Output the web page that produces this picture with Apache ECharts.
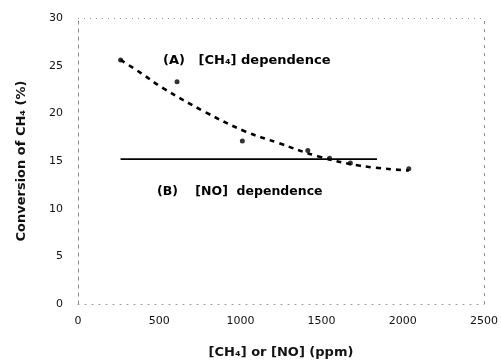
<!DOCTYPE html>
<html>
<head>
<meta charset="utf-8">
<script src="https://cdn.jsdelivr.net/npm/echarts@6/dist/echarts.min.js"></script>
<style>
  html, body { margin: 0; padding: 0; background: #fff; }
  #chart { width: 501px; height: 364px; }
</style>
</head>
<body>
<div id="chart"></div>
<script>
// Axis ticks
var xTicks = [0, 500, 1000, 1500, 2000, 2500];
var yTicks = [0, 5, 10, 15, 20, 25, 30];

// (A) CH4 dependence: measured conversion (%) vs [CH4] (ppm)
var ch4Conc = [262, 610, 1012, 1415, 1549, 1677, 2037];
var ch4Conv = [25.6, 23.3, 17.1, 16.1, 15.3, 14.8, 14.2];

// (A) trend curve drawn through the measurements
var ch4TrendConc = [262, 390, 518, 787, 1030, 1232, 1476, 1738, 2037];
var ch4TrendConv = [25.6, 24.2, 22.7, 20.1, 18.1, 16.9, 15.5, 14.5, 14.0];

// (B) NO dependence: flat conversion across [NO]
var noConc = [262, 1841];
var noConv = [15.2, 15.2];

function pairs(xs, ys) {
  return xs.map(function (x, i) { return [x, ys[i]]; });
}

var font = '"DejaVu Sans", "Liberation Sans", sans-serif';
var chart = echarts.init(document.getElementById('chart'));

chart.setOption({
  animation: false,
  backgroundColor: '#ffffff',
  grid: { left: 78, right: 14, top: 18, bottom: 59, show: false },
  xAxis: {
    type: 'value',
    min: xTicks[0],
    max: xTicks[xTicks.length - 1],
    interval: 500,
    name: '[CH\u2084] or [NO] (ppm)',
    nameLocation: 'middle',
    nameGap: 42,
    nameTextStyle: { fontFamily: font, fontSize: 13, fontWeight: 'bold', color: '#111' },
    axisLine: { show: true, lineStyle: { color: '#999', type: [1, 6], width: 1 } },
    axisTick: { show: false },
    splitLine: { show: false },
    axisLabel: {
      fontFamily: font, fontSize: 11, color: '#111', margin: 12,
      formatter: function (v) { return String(v); }
    }
  },
  yAxis: {
    type: 'value',
    min: yTicks[0],
    max: yTicks[yTicks.length - 1],
    interval: 5,
    name: 'Conversion of CH\u2084 (%)',
    nameLocation: 'middle',
    nameGap: 50,
    nameTextStyle: { fontFamily: font, fontSize: 13, fontWeight: 'bold', color: '#111' },
    axisLine: { show: true, lineStyle: { color: '#888', type: [3, 5], width: 1 } },
    axisTick: { show: false },
    splitLine: { show: false },
    axisLabel: { fontFamily: font, fontSize: 11, color: '#111', margin: 15 }
  },
  series: [
    {
      name: 'frame',
      type: 'line',
      data: [],
      markLine: {
        silent: true,
        symbol: 'none',
        label: { show: false },
        lineStyle: { color: '#999', type: [1, 5], width: 1 },
        data: [
          { yAxis: 30 },
          [{ coord: [2500, 0] }, { coord: [2500, 30], lineStyle: { color: '#888', type: [3, 5] } }]
        ]
      }
    },
    {
      name: 'CH4 trend',
      type: 'line',
      smooth: 0.4,
      symbol: 'none',
      data: pairs(ch4TrendConc, ch4TrendConv),
      lineStyle: { color: '#000', width: 2.6, type: [5, 5] },
      z: 3
    },
    {
      name: 'CH4 dependence',
      type: 'scatter',
      symbol: 'circle',
      symbolSize: 5,
      data: pairs(ch4Conc, ch4Conv),
      itemStyle: { color: '#000' },
      z: 4
    },
    {
      name: 'NO dependence',
      type: 'line',
      symbol: 'none',
      data: pairs(noConc, noConv),
      lineStyle: { color: '#000', width: 1.6 },
      z: 2
    }
  ],
  graphic: [
    {
      type: 'text',
      left: 163,
      top: 54,
      style: {
        text: '(A)   [CH\u2084] dependence',
        font: 'bold 13px ' + font,
        fill: '#000'
      }
    },
    {
      type: 'text',
      left: 157,
      top: 185,
      style: {
        text: '(B)    [NO]  dependence',
        font: 'bold 12.5px ' + font,
        fill: '#000'
      }
    }
  ]
});
</script>
</body>
</html>
